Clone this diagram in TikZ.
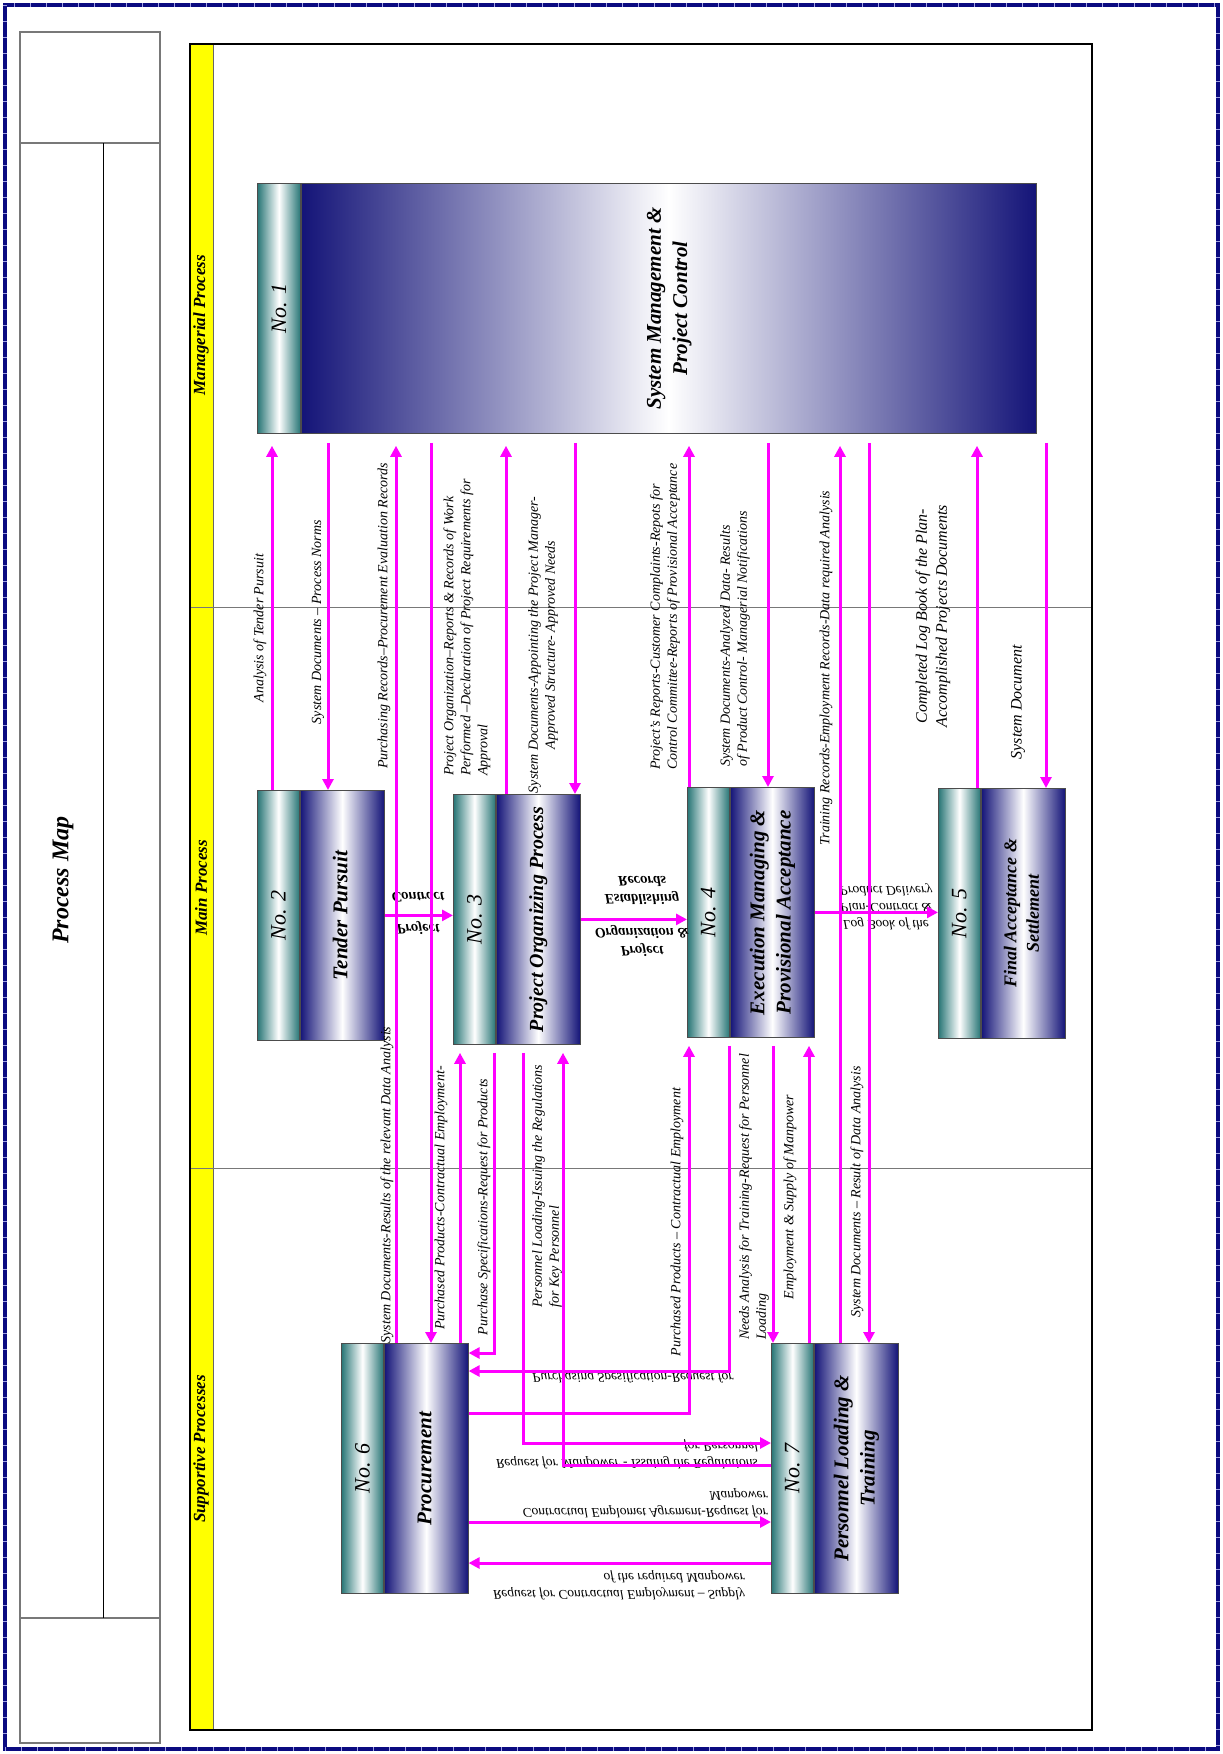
\documentclass[tikz,border=0pt]{standalone}
\usepackage{fontspec}
\setmainfont{Liberation Serif}
\usepackage{graphicx}
\usetikzlibrary{arrows.meta,calc}

\definecolor{pmnavy}  {RGB}{20,20,120}
\definecolor{pmteal}  {RGB}{40,118,118}
\definecolor{pmmag}   {RGB}{255,0,255}
\definecolor{pmyellow}{RGB}{255,255,0}
\definecolor{pmgray}  {RGB}{120,120,120}
\definecolor{pmframe} {RGB}{10,10,128}
\definecolor{pmtick}  {RGB}{160,160,225}

\renewcommand{\arraystretch}{1.25}
\newcommand{\pmflip}[2]{\scalebox{1}[-1]{\begin{tabular}{@{}#1@{}}#2\end{tabular}}}

\tikzset{
  strip/.style={anchor=north west,minimum width=42pt,minimum height=250pt,
                inner sep=0pt,draw=black!70,line width=0.8pt,
                left color=pmteal,right color=pmteal,middle color=white,
                font=\fontsize{22}{22}\selectfont\itshape},
  body/.style={anchor=north west,minimum width=84pt,minimum height=250pt,
               inner sep=0pt,draw=black!70,line width=0.8pt,
               left color=pmnavy,right color=pmnavy,middle color=white},
  flow/.style={pmmag,line width=3pt,-{Triangle[length=11pt,width=11pt]}},
  lbl/.style={rotate=90,inner sep=0pt,align=center,
              font=\fontsize{14}{17}\selectfont\itshape},
  bigl/.style={lbl,font=\fontsize{16}{20}\selectfont\itshape},
  flbl/.style={inner sep=0pt,font=\fontsize{13.5}{13.5}\selectfont\itshape},
  flbb/.style={inner sep=0pt,font=\fontsize{14.5}{14.5}\selectfont\bfseries\itshape},
  lane/.style={rotate=90,inner sep=0pt,font=\fontsize{17}{17}\selectfont\bfseries\itshape},
  title/.style={rotate=90,inner sep=0pt,font=\fontsize{24}{24}\selectfont\bfseries\itshape},
}

\begin{document}
\begin{tikzpicture}[x=1pt,y=-1pt]
  \useasboundingbox (0,0) rectangle (1223,1754);
  % page frame
  \draw[pmframe,line width=4pt] (5,5) rectangle (1218,1749);
  \draw[pmtick,line width=4pt,dash pattern=on 1pt off 15pt] (5,5) rectangle (1218,1749);

  % title block
  \draw[pmgray,line width=1.5pt] (20,32) rectangle (160,1743);
  \draw[pmgray,line width=1.5pt] (20,143) -- (160,143) (20,1618) -- (160,1618);
  \draw[black,line width=1pt] (103,143) -- (103,1618);
  \node[title] (map) at (63,880) {Process Map};

  % lanes
  \fill[pmyellow] (190,44) rectangle (213,1730);
  \draw[black!60] (213,44) -- (213,1730);
  \draw[pmgray,line width=1pt] (190,607) -- (1092,607) (190,1168) -- (1092,1168);
  \draw[black,line width=2pt] (190,44) rectangle (1092,1730);
  \node[lane] (lane1) at (201,325) {Managerial Process};
  \node[lane] (lane2) at (201,888) {Main Process};
  \node[lane] (lane3) at (201,1449) {Supportive Processes};

  % processes
  \node[strip,minimum width=43pt] (s1) at (257,183) {\rotatebox{90}{No. 1}};
  \node[body,minimum width=735pt,font=\fontsize{21}{21}\selectfont\bfseries\itshape]
       (b1) at (s1.north east)
       {\rotatebox{90}{\begin{tabular}{@{}c@{}}System Management \&\\Project Control\end{tabular}}};
  \foreach \n/\x/\y/\fs/\ttl in {
      2/257/790/21/{Tender Pursuit},
      3/453/794/20/{Project Organizing Process},
      4/687/787/21/{Execution Managing \&\\Provisional Acceptance},
      5/938/788/18/{Final Acceptance \&\\Settlement},
      6/341/1343/21/{Procurement},
      7/771/1343/21/{Personnel Loading \&\\Training}}{
    \node[strip] (s\n) at (\x,\y) {\rotatebox{90}{No. \n}};
    \node[body,font=\fontsize{\fs}{\fs}\selectfont\bfseries\itshape] (b\n) at (s\n.north east)
         {\rotatebox{90}{\begin{tabular}{@{}c@{}}\ttl\end{tabular}}};
  }

  % labels managerial <-> main
  \node[lbl] (t1) at (260,628) {Analysis of Tender Pursuit};
  \node[lbl] (t2) at (318,622) {System Documents -- Process Norms};
  \node[lbl] (t3) at (384,616) {Purchasing Records--Procurement Evaluation Records};
  \node[lbl,align=left,anchor=west] (t4) at (467,776)
       {Project Organization--Reports \& Records of Work\\Performed --Declaration of Project Requirements for\\Approval};
  \node[lbl] (t5) at (543,645)
       {System Documents-Appointing the Project Manager-\\Approved Structure- Approved Needs};
  \node[lbl,align=left,anchor=west] (t6) at (665,770)
       {Project's Reports-Customer Complaints-Repots for\\Control Committee-Reports of Provisional Acceptance};
  \node[lbl,align=left,anchor=west] (t7) at (735,767)
       {System Documents-Analyzed Data- Results\\of Product Control- Managerial Notifications};
  \node[lbl] (t8) at (826,668) {Training Records-Employment Records-Data required Analysis};
  \node[bigl] (t9) at (933,616) {Completed Log Book of the Plan-\\Accomplished Projects Documents};
  \node[bigl] (t10) at (1018,702) {System Document};

  % labels main <-> supportive
  \node[lbl] (t11) at (387,1185) {System Documents-Results of the relevant Data Analysis};
  \node[lbl] (t12) at (441,1198) {Purchased Products-Contractual Employment-};
  \node[lbl] (t13) at (484,1207) {Purchase Specifications-Request for Products};
  \node[lbl,align=left,anchor=west] (t14) at (547,1308)
       {Personnel Loading-Issuing the Regulations\\for Key Personnel};
  \node[lbl] (t15) at (677,1222) {Purchased Products -- Contractual Employment};
  \node[lbl,align=left,anchor=west] (t16) at (754,1340)
       {Needs Analysis for Training-Request for Personnel\\Loading};
  \node[lbl] (t17) at (790,1197) {Employment \& Supply of Manpower};
  \node[lbl] (t18) at (857,1192) {System Documents -- Result of Data Analysis};

  % mirrored labels
  \node[flbb] (f1) at (418,912) {\pmflip{c}{Project\\[14pt]Contract}};
  \node[flbb] (f2) at (642,915) {\pmflip{c}{Project\\Organization \&\\[16pt]Establishing\\Records}};
  \node[flbl] (f3) at (886,907) {\pmflip{c}{Log Book of the\\Plan-Contract \&\\Product Delivery}};
  \node[flbl] (f4) at (633,1377) {\pmflip{r}{Purchasing Spesification-Request for}};
  \node[flbl,anchor=east] (f5) at (758,1454)
       {\pmflip{r}{Request for Manpower - Issuing the Regulations\\for Personnel}};
  \node[flbl,anchor=east] (f6) at (768,1503)
       {\pmflip{r}{Contractual Emplomet Agrement-Request for\\Manpower}};
  \node[flbl,anchor=east] (f7) at (745,1585)
       {\pmflip{r}{Request for Contractual Employment -- Supply\\of the required Manpower}};

  % flows managerial <-> main
  \draw[flow,shorten >=12pt] (272,0 |- s2.north) -- (272,0 |- b1.south);
  \draw[flow,shorten <=9pt] (328,0 |- b1.south) -- (328,0 |- b2.north);
  \draw[flow,shorten >=12pt] (396,0 |- b6.north) -- (396,0 |- b1.south);
  \draw[flow,shorten <=9pt] (431,0 |- b1.south) -- (431,0 |- b6.north);
  \draw[flow,shorten >=12pt] (506,0 |- b3.north) -- (506,0 |- b1.south);
  \draw[flow,shorten <=9pt] (575,0 |- b1.south) -- (575,0 |- b3.north);
  \draw[flow,shorten >=12pt] (689,0 |- s4.north) -- (689,0 |- b1.south);
  \draw[flow,shorten <=9pt] (768,0 |- b1.south) -- (768,0 |- b4.north);
  \draw[flow,shorten >=12pt] (840,0 |- b7.north) -- (840,0 |- b1.south);
  \draw[flow,shorten <=9pt] (869,0 |- b1.south) -- (869,0 |- b7.north);
  \draw[flow,shorten >=12pt] (977,0 |- s5.north) -- (977,0 |- b1.south);
  \draw[flow,shorten <=9pt] (1046,0 |- b1.south) -- (1046,0 |- b5.north);

  % flows along main process
  \draw[flow] (b2.east) -- (b2.east -| s3.west);
  \draw[flow] (b3.east) -- (b3.east -| s4.west);
  \draw[flow] (b4.east) -- (b4.east -| s5.west);

  % flows main <-> supportive
  \coordinate (k1) at (494,1353);
  \coordinate (k2) at (729,1371);
  \coordinate (k3) at (689,1413);
  \coordinate (k4) at (523,1443);
  \coordinate (k5) at (563,1465);
  \draw[flow,shorten >=8pt] (460,0 |- b6.north) -- (460,0 |- b3.south);
  \draw[flow,shorten <=8pt] (494,0 |- b3.south) -- (k1) -- (k1 -| b6.east);
  \draw[flow,shorten <=8pt] (729,0 |- b4.south) -- (k2) -- (k2 -| b6.east);
  \draw[flow,shorten >=8pt] (k3 -| b6.east) -- (k3) -- (k3 |- s4.south);
  \draw[flow,shorten <=8pt] (523,0 |- b3.south) -- (k4) -- (k4 -| s7.west);
  \draw[flow,shorten >=8pt] (k5 -| s7.west) -- (k5) -- (k5 |- b3.south);
  \draw[flow,shorten <=8pt] (773,0 |- b4.south) -- (773,0 |- s7.north);
  \draw[flow,shorten >=8pt] (809,0 |- s7.north) -- (809,0 |- b4.south);

  % flows between supportive processes
  \draw[flow] (b6.east |- 0,1522) -- (s7.west |- 0,1522);
  \draw[flow] (s7.west |- 0,1563) -- (b6.east |- 0,1563);
\end{tikzpicture}
\end{document}
